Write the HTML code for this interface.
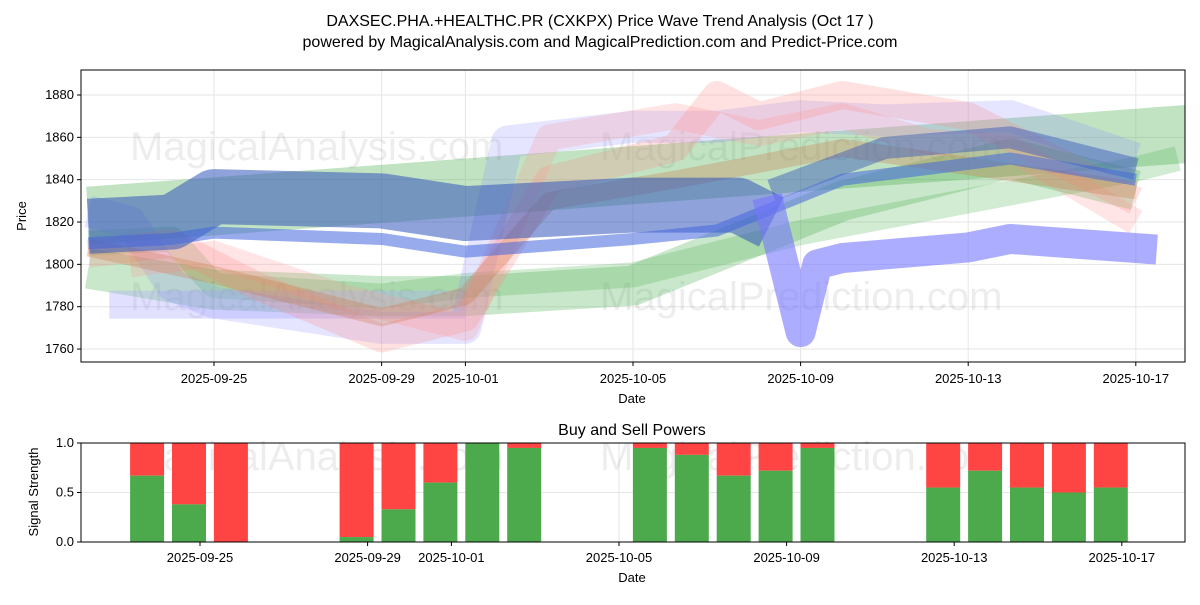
<!DOCTYPE html>
<html><head><meta charset="utf-8"><style>
body{margin:0;background:#fff;font-family:"Liberation Sans","DejaVu Sans",sans-serif;}
</style></head><body>
<svg id="chart" width="1200" height="600" xmlns="http://www.w3.org/2000/svg" font-family="Liberation Sans, DejaVu Sans, sans-serif">
<text x="600" y="26" text-anchor="middle" font-size="16">DAXSEC.PHA.+HEALTHC.PR (CXKPX) Price Wave Trend Analysis (Oct 17 )</text>
<text x="600" y="47" text-anchor="middle" font-size="16">powered by MagicalAnalysis.com and MagicalPrediction.com and Predict-Price.com</text>
<defs><clipPath id="c1"><rect x="81" y="70" width="1104" height="292"/></clipPath></defs>
<g id="topPlot" clip-path="url(#c1)"></g>
<rect x="81" y="70" width="1104" height="292" fill="none" stroke="#000" stroke-width="1"/>
<g id="topAxes"></g>
<text transform="translate(26,216) rotate(-90)" text-anchor="middle" font-size="13">Price</text>
<text x="632" y="403" text-anchor="middle" font-size="13">Date</text>
<text x="632" y="435" text-anchor="middle" font-size="16">Buy and Sell Powers</text>
<g id="bottom"></g>
<rect x="81" y="443" width="1104" height="99" fill="none" stroke="#000" stroke-width="1"/>
<g id="botAxes"></g>
<text transform="translate(38,492) rotate(-90)" text-anchor="middle" font-size="13">Signal Strength</text>
<text x="632" y="582" text-anchor="middle" font-size="13">Date</text>
</svg>
<script>
// dates as day offsets from 2025-09-25
const xTickDays=[0,4,6,10,14,18,22];
const xTickLabels=["2025-09-25","2025-09-29","2025-10-01","2025-10-05","2025-10-09","2025-10-13","2025-10-17"];
const yTicks=[1760,1780,1800,1820,1840,1860,1880];
const sigTicks=[0,0.5,1];
const sigTickLabels=["0.0","0.5","1.0"];
const barDays=[-1,0,1,4,5,6,7,8,11,12,13,14,15,18,19,20,21,22];
const buyPower=[0.67,0.38,0.0,0.05,0.33,0.6,1.0,0.95,0.95,0.88,0.67,0.72,0.95,0.55,0.72,0.55,0.5,0.55];
const bandDays1=[-3,23.5]; const bandVals1=[1823,1862];
const bandDays2=[-3,-1,0,4,6,10,14,18,22,23]; const bandVals2=[1810,1812,1790,1785,1790,1795,1815,1830,1845,1850];
const bandDays3=[-3,-2,-1,0,4,6,7,10,12,14,16,19,22]; const bandVals3=[1825,1820,1790,1782,1770,1770,1858,1865,1865,1870,1868,1870,1850];
const bandDays4=[13.2,14,14.4,15,18,19,22.5]; const bandVals4=[1832,1768,1800,1803,1808,1812,1807];
const bandDays5=[-3,-1,1,4,6,8,11,12,13,15,18,22]; const bandVals5=[1805,1810,1790,1765,1775,1840,1855,1880,1870,1880,1870,1830];
const bandDays6=[-3,0,4,6,8,11,15,22]; const bandVals6=[1808,1795,1775,1785,1830,1840,1855,1835];
const bandDays7=[-3,-1,0,4,6,10,12,15,19,22]; const bandVals7=[1810,1812,1815,1812,1806,1812,1816,1840,1850,1840];
const bandDays8=[-3,-1,0,4,6,10,12.5,13.3]; const bandVals8=[1818,1820,1832,1830,1824,1828,1828,1820];
const bandDays12=[13.3,16,19,22]; const bandVals12=[1835,1855,1860,1845];
const bandDays9=[-3,0,4,6,10,15,19,22]; const bandVals9=[1798,1788,1785,1785,1790,1830,1850,1835];
const bandDays10=[-2.5,6]; const bandVals10=[1781,1781];
const bandDays11=[-2,0,3,6,8,11,13,15,17,19,22]; const bandVals11=[1800,1805,1785,1770,1860,1870,1862,1870,1858,1855,1820];

const NS="http://www.w3.org/2000/svg";
const xT=d=>214+d*41.9, yT=v=>95+(1880-v)*2.117;
const xB=d=>200+d*41.9, yB=s=>542-s*99;
const barShift=-11;
function mk(tag,attrs,parent){const e=document.createElementNS(NS,tag);for(const k in attrs)e.setAttribute(k,attrs[k]);parent.appendChild(e);return e;}
const topG=document.getElementById('topPlot'),ta=document.getElementById('topAxes');
const botG=document.getElementById('bottom'),ba=document.getElementById('botAxes');
yTicks.forEach(v=>{const l=mk('line',{x1:81,x2:1185,y1:yT(v),y2:yT(v),stroke:'#e6e6e6'},topG);

});
xTickDays.forEach(d=>{const l=mk('line',{x1:xT(d),x2:xT(d),y1:70,y2:362,stroke:'#e6e6e6'},topG);

});
[[130,160],[600,160],[130,310],[600,310]].forEach(p=>{const t=mk('text',{x:p[0],y:p[1],'font-size':40,fill:'#000','fill-opacity':0.07},topG);t.textContent=p[0]<300?'MagicalAnalysis.com':'MagicalPrediction.com';

});
const bands=[
[bandDays1,bandVals1,'#4caf50',0.35,58],
[bandDays9,bandVals9,'#4caf50',0.3,40],
[bandDays2,bandVals2,'#4caf50',0.25,25],
[bandDays10,bandVals10,'#aaaaff',0.35,28],
[bandDays3,bandVals3,'#8888ff',0.22,32],
[bandDays11,bandVals11,'#ff9999',0.25,26],
[bandDays5,bandVals5,'#ff8888',0.25,28],
[bandDays6,bandVals6,'#cc7744',0.3,18],
[bandDays8,bandVals8,'#3355bb',0.55,55],
[bandDays12,bandVals12,'#3355bb',0.45,22],
[bandDays7,bandVals7,'#4466dd',0.55,12],
[bandDays4,bandVals4,'#7777ff',0.6,30]];
bands.forEach((b,i)=>{const pts=b[0].map((d,j)=>xT(d)+','+yT(b[1][j])).join(' ');
const p=mk('polyline',{points:pts,fill:'none',stroke:b[2],'stroke-opacity':b[3],'stroke-width':b[4],'stroke-linejoin':'round'},topG);

});
yTicks.forEach(v=>{mk('line',{x1:77,x2:81,y1:yT(v),y2:yT(v),stroke:'#000'},ta);
const t=mk('text',{x:74,y:yT(v)+4,'text-anchor':'end','font-size':13},ta);t.textContent=v;

});
xTickDays.forEach((d,i)=>{mk('line',{x1:xT(d),x2:xT(d),y1:362,y2:366,stroke:'#000'},ta);
const t=mk('text',{x:xT(d),y:383,'text-anchor':'middle','font-size':13},ta);t.textContent=xTickLabels[i];

});
sigTicks.forEach((s,i)=>{mk('line',{x1:81,x2:1185,y1:yB(s),y2:yB(s),stroke:'#e6e6e6'},botG);
mk('line',{x1:77,x2:81,y1:yB(s),y2:yB(s),stroke:'#000'},ba);
const t=mk('text',{x:74,y:yB(s)+4,'text-anchor':'end','font-size':13},ba);t.textContent=sigTickLabels[i];

});
xTickDays.forEach(d=>mk('line',{x1:xB(d),x2:xB(d),y1:443,y2:542,stroke:'#e6e6e6'},botG));
[[130,470],[600,470]].forEach(p=>{const t=mk('text',{x:p[0],y:p[1],'font-size':40,fill:'#000','fill-opacity':0.07},botG);t.textContent=p[0]<300?'MagicalAnalysis.com':'MagicalPrediction.com';

});
barDays.forEach((d,i)=>{const x=xB(d)+barShift-17,g=buyPower[i];
const r=mk('rect',{x:x,y:yB(1),width:34,height:yB(g)-yB(1),fill:'#ff4444'},botG);


const gr=mk('rect',{x:x,y:yB(g),width:34,height:yB(0)-yB(g),fill:'#4caa4c'},botG);

});
xTickDays.forEach((d,i)=>{mk('line',{x1:xB(d),x2:xB(d),y1:542,y2:546,stroke:'#000'},ba);
const t=mk('text',{x:xB(d),y:562,'text-anchor':'middle','font-size':13},ba);t.textContent=xTickLabels[i];

});
</script>
</body></html>
